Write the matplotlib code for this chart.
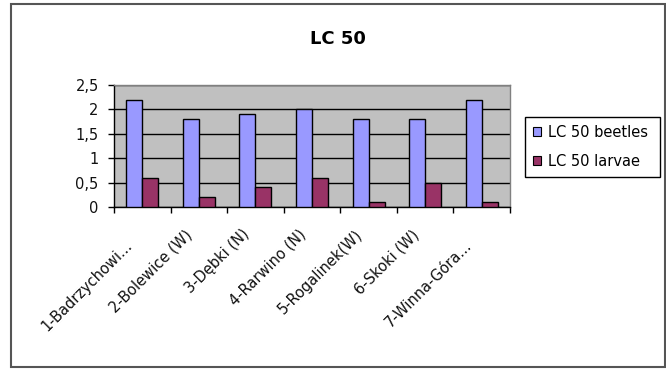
import matplotlib
matplotlib.use("Agg")
import matplotlib.pyplot as plt
import matplotlib.transforms as mtransforms
from matplotlib.patches import Rectangle, Patch
import numpy as np

sites = ["1-Badrzychowi...", "2-Bolewice (W)", "3-Dębki (N)", "4-Rarwino (N)",
         "5-Rogalinek(W)", "6-Skoki (W)", "7-Winna-Góra..."]
beetles = [2.2, 1.8, 1.9, 2.0, 1.8, 1.8, 2.2]
larvae = [0.6, 0.2, 0.4, 0.6, 0.1, 0.5, 0.1]
y_ticks = [0, 0.5, 1, 1.5, 2, 2.5]
y_tick_labels = ["0", "0,5", "1", "1,5", "2", "2,5"]
series_names = ["LC 50 beetles", "LC 50 larvae"]
title = "LC 50"

plt.rcParams["font.family"] = ["DejaVu Sans"]
W, H = 666, 369
fig = plt.figure(figsize=(W / 100, H / 100), dpi=100)
fig.patch.set_facecolor("white")

def px(x0, y0, x1, y1):
    return [x0 / W, 1 - y1 / H, (x1 - x0) / W, (y1 - y0) / H]

ax = fig.add_axes(px(114, 85, 510, 207))
ax.set_facecolor("#C0C0C0")

c_beetle = "#9999FF"
c_larvae = "#993366"
bw = 0.283
x = np.arange(len(sites))
ax.bar(x - bw / 2, beetles, bw, color=c_beetle, edgecolor="black", linewidth=1.0, zorder=3)
ax.bar(x + bw / 2, larvae, bw, color=c_larvae, edgecolor="black", linewidth=1.0, zorder=3)

ax.set_xlim(-0.5, len(sites) - 0.5)
ax.set_ylim(0, 2.5)
ax.set_yticks(y_ticks)
ax.set_yticklabels(y_tick_labels, fontsize=10.5, color="#111111")
ax.tick_params(axis="y", direction="out", length=4, width=1, pad=7, color="black")

ax.set_xticks(x)
ax.set_xticklabels(sites, fontsize=10.5, rotation=45, ha="right", va="center",
                   rotation_mode="anchor", color="#111111")
ax.tick_params(axis="x", which="major", length=0, pad=18)
ax.set_xticks(np.arange(-0.5, len(sites), 1.0), minor=True)
ax.tick_params(axis="x", which="minor", direction="out", length=4.5, width=1, color="black")

for lab in ax.get_xticklabels():
    extra = 8 / 72 if lab.get_text().endswith("...") else 0
    dx = -12 / 100 if extra else -9 / 100
    lab.set_transform(lab.get_transform() +
                      mtransforms.ScaledTranslation(dx, -extra, fig.dpi_scale_trans))

ax.set_axisbelow(True)
ax.yaxis.grid(True, color="black", linewidth=1.0)
ax.xaxis.grid(False)
for side in ("left", "bottom"):
    ax.spines[side].set_color("black")
    ax.spines[side].set_linewidth(1.0)
for side in ("top", "right"):
    ax.spines[side].set_color("#808080")
    ax.spines[side].set_linewidth(1.0)

fig.text(337.5 / W, 1 - 38.5 / H, title, fontsize=13, fontweight="bold",
         ha="center", va="center", color="black")

handles = [Patch(facecolor=c_beetle, edgecolor="black", linewidth=0.8),
           Patch(facecolor=c_larvae, edgecolor="black", linewidth=0.8)]
leg = fig.legend(handles, series_names, loc="upper left",
                 bbox_to_anchor=(525 / W, 1 - 117 / H, 135 / W, 0.0001),
                 mode="expand", borderaxespad=0, fontsize=10.5,
                 handlelength=0.55, handleheight=0.55, handletextpad=0.45,
                 labelspacing=0.95, borderpad=0.55, fancybox=False,
                 framealpha=1, edgecolor="black")
leg.get_frame().set_linewidth(1.0)

# outer chart frame
fig.patches.append(Rectangle((11 / W, 1 - 367 / H), 654 / W, 363 / H,
                             transform=fig.transFigure, fill=False,
                             edgecolor="#555555", linewidth=1.5))

fig.savefig("out.png", dpi=100, facecolor="white")
